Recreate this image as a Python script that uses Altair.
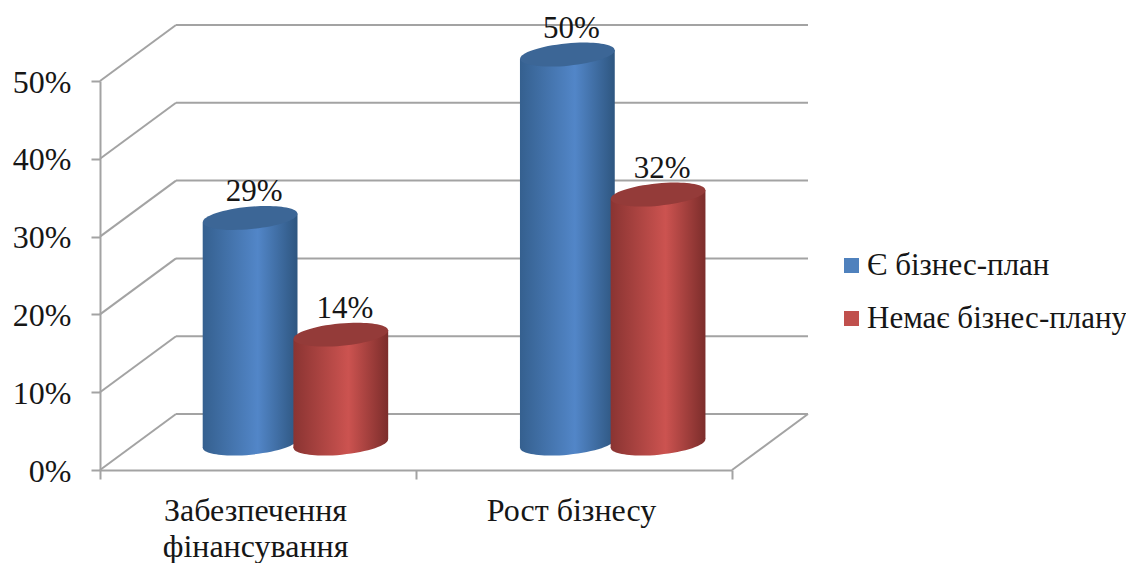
import math
import altair as alt
import pandas as pd

categories = ["Забезпечення\nфінансування", "Рост бізнесу"]
series_names = ["Є бізнес-план", "Немає бізнес-плану"]
plan_values = [29, 50]
noplan_values = [14, 32]
y_ticks = [0, 10, 20, 30, 40, 50]

FONT = "Liberation Serif"
GREY = "#a3a3a3"
INK = "#161616"
DX, DY = 0.2405, 7.2      # depth of the floor, in scale units
BASE = 3.4                # cylinders stand this far up the floor
HALF = 0.150              # half width of a cylinder in x units
SLANT = 0.58              # rise of the ellipse at its right end in y units
CENTER = {0: 0.475, 1: 0.762}
GROUP = [0, 1.004]
PX_W = 95


def ellipse_path(rx=1.0, ry=0.235, deg=-5.4):
    a = math.radians(deg)
    def p(u, v):
        x = rx * u
        y = ry * v
        return f"{x * math.cos(a) - y * math.sin(a):.4f},{x * math.sin(a) + y * math.cos(a):.4f}"
    k = 0.5523
    return (f"M{p(-1,0)} C{p(-1,-k)} {p(-k,-1)} {p(0,-1)} C{p(k,-1)} {p(1,-k)} {p(1,0)} "
            f"C{p(1,k)} {p(k,1)} {p(0,1)} C{p(-k,1)} {p(-1,k)} {p(-1,0)} Z")


def grad(edge_l, mid, edge_r):
    return alt.Gradient(
        gradient="linear", x1=0, x2=1, y1=0, y2=0,
        stops=[alt.GradientStop(color=edge_l, offset=0),
               alt.GradientStop(color=mid, offset=0.58),
               alt.GradientStop(color=edge_r, offset=1)],
    )


BLUE_BODY = grad("#35608f", "#5286c8", "#2e5680")
RED_BODY = grad("#8a3432", "#cc5350", "#7c2d2b")
STYLE = {0: (BLUE_BODY, "#3c6696"), 1: (RED_BODY, "#943b39")}

rows, body = [], []
for gi, vals in enumerate(zip(plan_values, noplan_values)):
    for si, v in enumerate(vals):
        cx = GROUP[gi] + CENTER[si]
        rows.append(dict(cx=cx, base=BASE, top=BASE + v, value=v, s=si,
                         series=series_names[si], label=f"{v}%"))
        body.append(dict(cid=f"{gi}{si}", s=si, x=cx - HALF, y=BASE + v - SLANT, y2=BASE - SLANT))
        body.append(dict(cid=f"{gi}{si}", s=si, x=cx + HALF, y=BASE + v + SLANT, y2=BASE + SLANT))
cyl = pd.DataFrame(rows)
body = pd.DataFrame(body)

xs = alt.Scale(domain=[0, 2], nice=False, zero=False)
ys = alt.Scale(domain=[0, 50], nice=False, zero=False)
axis_common = dict(domainColor=GREY, domainWidth=2, tickColor=GREY, tickWidth=2, tickSize=9, grid=False, title=None)
x_axis = alt.Axis(values=[0, 1, 2], labels=False, **axis_common)
y_axis = alt.Axis(values=y_ticks, labelExpr="datum.value + '%'", labelFont=FONT, labelFontSize=32,
                  labelColor=INK, labelPadding=20, labelOffset=1, **axis_common)


def X(f):
    return alt.X(f, scale=xs, axis=x_axis, title=None)


def Y(f):
    return alt.Y(f, scale=ys, axis=y_axis, title=None)


# frame
diag = pd.DataFrame(
    [dict(x=0, x2=DX, y=t, y2=t + DY) for t in y_ticks] + [dict(x=2, x2=2 + DX, y=0, y2=DY)]
)
back = pd.DataFrame([dict(x=DX, x2=2 + DX, y=t + DY) for t in y_ticks])

frame = alt.Chart(diag).mark_rule(color=GREY, strokeWidth=2).encode(
    x=X("x:Q"), x2="x2:Q", y=Y("y:Q"), y2="y2:Q"
)
walls = alt.Chart(back).mark_rule(color=GREY, strokeWidth=2).encode(
    x=X("x:Q"), x2="x2:Q", y=Y("y:Q")
)

legend_layer = alt.Chart(cyl).mark_square(size=60, opacity=1).encode(
    x=X("cx:Q"),
    y=Y("top:Q"),
    color=alt.Color(
        "series:N",
        scale=alt.Scale(domain=series_names, range=["#4f81bd", "#c0504d"]),
        sort=series_names,
        legend=alt.Legend(
            orient="none", legendX=736, legendY=169, title=None, labelFont=FONT, labelFontSize=31,
            labelColor=INK, symbolType="square", symbolSize=225, symbolStrokeWidth=0,
            rowPadding=21, labelOffset=0, labelLimit=400,
        ),
    ),
)


def cyl_layers(si):
    fill, cap = STYLE[si]
    d = cyl[cyl.s == si]
    b = body[body.s == si]
    bottom = alt.Chart(d).mark_point(
        shape=ellipse_path(), size=PX_W ** 2, filled=True, fill=fill, opacity=1, strokeWidth=0
    ).encode(x=X("cx:Q"), y=Y("base:Q"))
    side = alt.Chart(b).mark_area(fill=fill, opacity=1, interpolate="linear").encode(
        x=X("x:Q"), y=Y("y:Q"), y2="y2:Q", detail="cid:N",
    )
    top = alt.Chart(d).mark_point(
        shape=ellipse_path(), size=PX_W ** 2, filled=True, fill=cap, opacity=1, strokeWidth=0
    ).encode(x=X("cx:Q"), y=Y("top:Q"))
    return [bottom, side, top]


value_labels = alt.Chart(cyl).mark_text(
    font=FONT, fontSize=31, color=INK, baseline="alphabetic", dy=-17, dx=4
).encode(x=X("cx:Q"), y=Y("top:Q"), text="label:N")

cat_df = pd.DataFrame({"x": [i + 0.5 for i in range(len(categories))], "y": [0] * len(categories), "t": categories})
cat_labels = alt.Chart(cat_df).mark_text(
    font=FONT, fontSize=32, color=INK, baseline="alphabetic", dy=51, dx=-2.5, lineBreak="\n", lineHeight=36
).encode(x=X("x:Q"), y=Y("y:Q"), text="t:N")

chart = alt.layer(
    frame, walls, legend_layer, *cyl_layers(0), *cyl_layers(1), value_labels, cat_labels
).properties(
    width=632, height=389,
    autosize=alt.AutoSizeParams(type="none"),
    padding={"left": 92, "top": 73, "right": 394, "bottom": 93},
    background="white",
).configure_view(stroke=None)

chart.save("out.html", embed_options={"renderer": "svg", "actions": False})
